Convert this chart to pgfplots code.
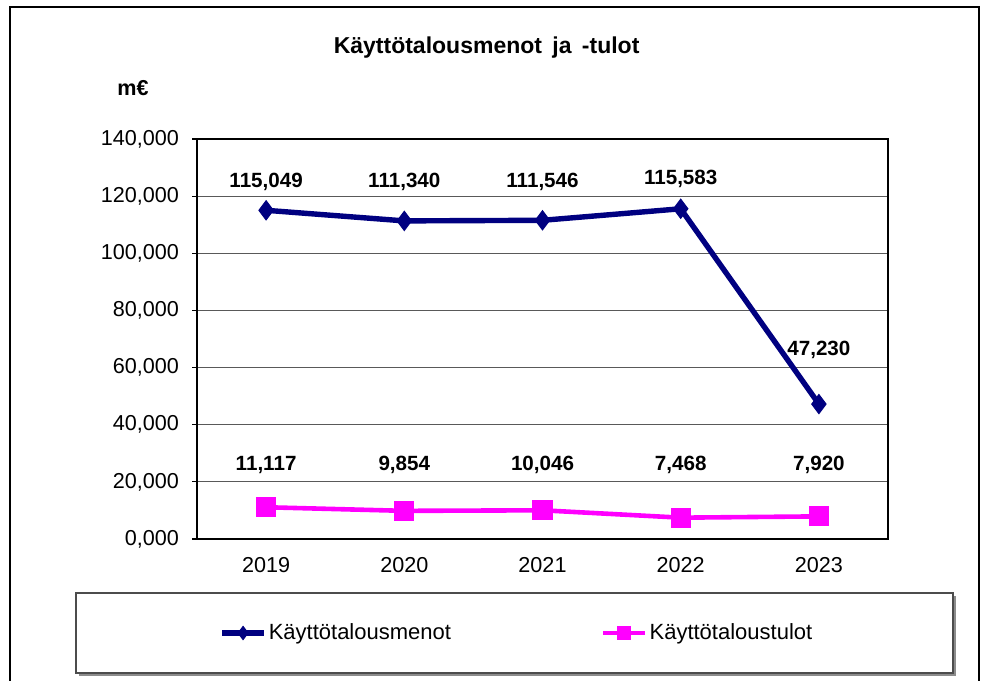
\documentclass[border=0pt]{standalone}
\usepackage{pgfplots}
\pgfplotsset{compat=1.18}
\usepackage{fontspec}
\setmainfont{Liberation Sans}
\definecolor{menot}{HTML}{000080}
\definecolor{tulot}{HTML}{FF00FF}
\pgfkeys{/pgf/number format/.cd, use comma, fixed, fixed zerofill, precision=3, 1000 sep={}, assume math mode=true}
\begin{document}
\begin{tikzpicture}
\useasboundingbox (0pt,0pt) rectangle (492pt,-340pt);
% outer chart frame
\draw[line width=0.8pt] (5pt,-345pt) -- (5pt,-3.5pt) -- (489.5pt,-3.5pt) -- (489.5pt,-345pt);
% title and unit
\node[font=\fontsize{11.5}{13}\selectfont\bfseries] at (243.3pt,-24pt) {Käyttötalousmenot\hspace{0.45em}ja\hspace{0.45em}-tulot};
\node[font=\fontsize{10.8}{12}\selectfont\bfseries] at (66.5pt,-44pt) {m€};
% legend box with shadow
\fill[black!45] (39.5pt,-298pt) rectangle (478pt,-338pt);
\draw[black!70, fill=white, line width=0.6pt] (38pt,-296.5pt) rectangle (476.5pt,-336.5pt);
\begin{axis}[
  scale only axis,
  width=345.5pt, height=200pt,
  at={(98.5pt,-269.5pt)}, anchor=south west,
  xmin=-0.5, xmax=4.5, ymin=0, ymax=140,
  xtick={0,1,2,3,4},
  xticklabels={2019,2020,2021,2022,2023},
  minor xtick={-0.5,0.5,1.5,2.5,3.5,4.5},
  ytick={0,20,40,60,80,100,120,140},
  tick align=outside,
  major tick length=2.5pt,
  minor tick length=3pt,
  xtick style={draw=none},
  minor tick style={black, line width=0.6pt},
  ytick style={black, line width=0.6pt},
  tick pos=left,
  ymajorgrids,
  grid style={black!65, line width=0.5pt},
  axis line style={black, line width=0.7pt},
  ticklabel style={font=\fontsize{10.8}{12}\selectfont},
  yticklabel style={inner sep=0pt, xshift=-6.3pt},
  xticklabel style={inner sep=0pt, anchor=north, yshift=-6.5pt},
  legend columns=2,
  legend style={at={(axis description cs:0.0318,-0.235)}, anchor=west, draw=none, fill=none,
    inner sep=0pt, font=\fontsize{11}{13}\selectfont,
    nodes={inner sep=1pt},
    /tikz/every even column/.append style={column sep=74pt}},
  legend cell align=left,
  legend image code/.code={\draw[#1, mark size=3.3pt, mark repeat=2, mark phase=2] plot coordinates {(0pt,0pt) (10.5pt,0pt) (21pt,0pt)};},
  nodes near coords,
  visualization depends on={\thisrow{off} \as \off},
  every node near coord/.append style={anchor=center, yshift=\off pt, font=\fontsize{10.3}{12}\selectfont\bfseries, text=black},
]
\addplot[menot, line width=2.7pt, mark=diamond*, mark size=4.8pt, mark options={line width=0.5pt}]
  table[x=x, y=y] {
x y off
0 115.049 14.2
1 111.340 19.5
2 111.546 19.2
3 115.583 14.9
4 47.230 27.0
};
\addlegendentry{Käyttötalousmenot}
\addplot[tulot, line width=2.3pt, mark=square*, mark size=4.8pt, mark options={line width=0.5pt}]
  table[x=x, y=y] {
x y off
0 11.117 21.0
1 9.854 23.0
2 10.046 22.5
3 7.468 26.5
4 7.920 25.5
};
\addlegendentry{Käyttötaloustulot}
\end{axis}
\end{tikzpicture}
\end{document}
